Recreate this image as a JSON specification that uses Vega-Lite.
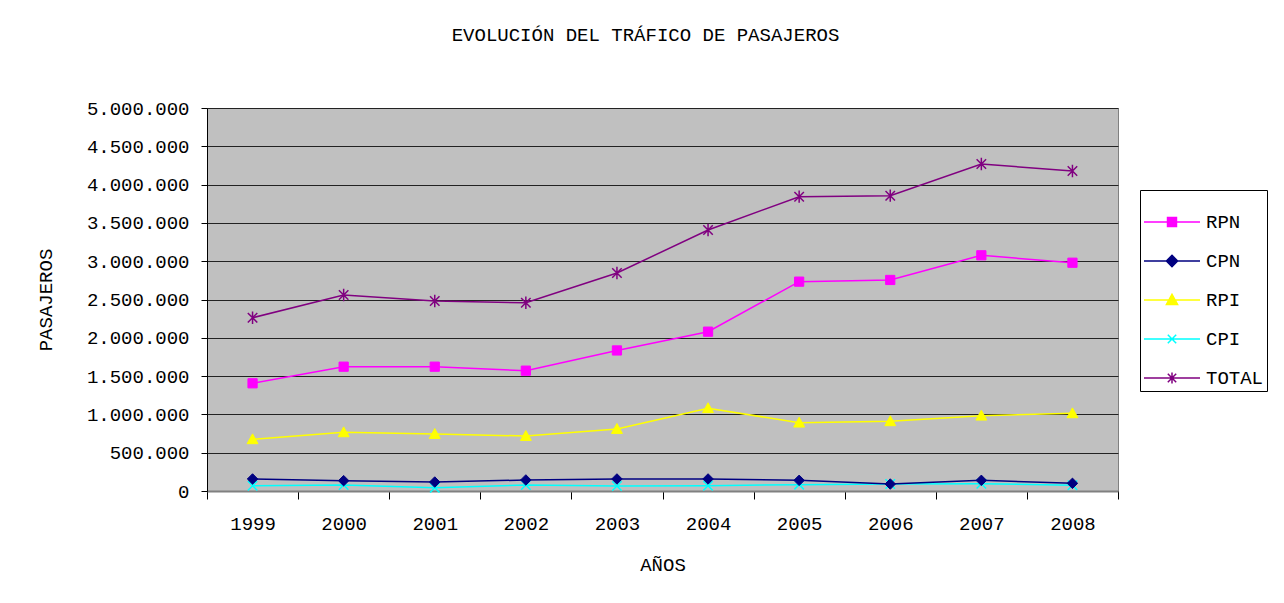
{
  "$schema": "https://vega.github.io/schema/vega-lite/v6.json",
  "width": 911,
  "height": 383,
  "autosize": {"type": "none"},
  "padding": {"left": 207, "top": 108, "right": 166, "bottom": 112},
  "background": "white",
  "title": {"text": "EVOLUCIÓN DEL TRÁFICO DE PASAJEROS", "font": "Liberation Mono", "fontSize": 19, "fontWeight": "normal", "color": "black", "offset": 54, "dx": -17, "anchor": "middle", "frame": "group"},
  "data": {"values": [
    {"year": "1999", "series": "RPN", "value": 1406000},
    {"year": "2000", "series": "RPN", "value": 1623000},
    {"year": "2001", "series": "RPN", "value": 1623000},
    {"year": "2002", "series": "RPN", "value": 1571000},
    {"year": "2003", "series": "RPN", "value": 1835000},
    {"year": "2004", "series": "RPN", "value": 2080000},
    {"year": "2005", "series": "RPN", "value": 2733000},
    {"year": "2006", "series": "RPN", "value": 2755000},
    {"year": "2007", "series": "RPN", "value": 3077000},
    {"year": "2008", "series": "RPN", "value": 2980000},
    {"year": "1999", "series": "CPN", "value": 157000},
    {"year": "2000", "series": "CPN", "value": 135000},
    {"year": "2001", "series": "CPN", "value": 117000},
    {"year": "2002", "series": "CPN", "value": 144000},
    {"year": "2003", "series": "CPN", "value": 157000},
    {"year": "2004", "series": "CPN", "value": 157000},
    {"year": "2005", "series": "CPN", "value": 139000},
    {"year": "2006", "series": "CPN", "value": 91000},
    {"year": "2007", "series": "CPN", "value": 139000},
    {"year": "2008", "series": "CPN", "value": 100000},
    {"year": "1999", "series": "RPI", "value": 675000},
    {"year": "2000", "series": "RPI", "value": 766000},
    {"year": "2001", "series": "RPI", "value": 744000},
    {"year": "2002", "series": "RPI", "value": 718000},
    {"year": "2003", "series": "RPI", "value": 809000},
    {"year": "2004", "series": "RPI", "value": 1080000},
    {"year": "2005", "series": "RPI", "value": 892000},
    {"year": "2006", "series": "RPI", "value": 910000},
    {"year": "2007", "series": "RPI", "value": 983000},
    {"year": "2008", "series": "RPI", "value": 1014000},
    {"year": "1999", "series": "CPI", "value": 69000},
    {"year": "2000", "series": "CPI", "value": 78000},
    {"year": "2001", "series": "CPI", "value": 43000},
    {"year": "2002", "series": "CPI", "value": 78000},
    {"year": "2003", "series": "CPI", "value": 65000},
    {"year": "2004", "series": "CPI", "value": 69000},
    {"year": "2005", "series": "CPI", "value": 83000},
    {"year": "2006", "series": "CPI", "value": 91000},
    {"year": "2007", "series": "CPI", "value": 95000},
    {"year": "2008", "series": "CPI", "value": 74000},
    {"year": "1999", "series": "TOTAL", "value": 2262000},
    {"year": "2000", "series": "TOTAL", "value": 2559000},
    {"year": "2001", "series": "TOTAL", "value": 2480000},
    {"year": "2002", "series": "TOTAL", "value": 2458000},
    {"year": "2003", "series": "TOTAL", "value": 2846000},
    {"year": "2004", "series": "TOTAL", "value": 3407000},
    {"year": "2005", "series": "TOTAL", "value": 3842000},
    {"year": "2006", "series": "TOTAL", "value": 3855000},
    {"year": "2007", "series": "TOTAL", "value": 4269000},
    {"year": "2008", "series": "TOTAL", "value": 4178000}
  ]},
  "encoding": {
    "x": {"field": "year", "type": "ordinal", "scale": {"type": "band", "paddingInner": 0, "paddingOuter": 0},
      "axis": {"title": "AÑOS", "labelAngle": 0, "tickBand": "extent", "tickSize": 8, "labelPadding": 15, "titlePadding": 22, "grid": false, "domainColor": "#808080", "domainWidth": 2}},
    "y": {"field": "value", "type": "quantitative", "scale": {"domain": [0, 5000000], "nice": false},
      "axis": {"title": "PASAJEROS", "values": [0, 500000, 1000000, 1500000, 2000000, 2500000, 3000000, 3500000, 4000000, 4500000, 5000000],
        "labelExpr": "replace(format(datum.value, ','), /,/g, '.')", "tickSize": 6, "labelPadding": 12, "titlePadding": 31, "grid": true, "gridColor": "#222", "gridOpacity": 1, "gridWidth": 1}}
  },
  "layer": [
    {
      "transform": [{"filter": "datum.series === 'TOTAL'"}],
      "mark": {"type": "line", "stroke": "#800080", "strokeWidth": 1.5,
        "point": {"shape": "M-1,-1L1,1M1,-1L-1,1M0,-1.3V1.3", "size": 90, "filled": false, "stroke": "#800080", "strokeWidth": 1.5, "opacity": 1}}
    },
    {
      "transform": [{"filter": "datum.series === 'RPN'"}],
      "mark": {"type": "line", "stroke": "#FF00FF", "strokeWidth": 1.5,
        "point": {"shape": "square", "size": 85, "filled": true, "fill": "#FF00FF", "stroke": "#FF00FF", "strokeWidth": 1, "opacity": 1}}
    },
    {
      "transform": [{"filter": "datum.series === 'RPI'"}],
      "mark": {"type": "line", "stroke": "#FFFF00", "strokeWidth": 1.5,
        "point": {"shape": "M0,-1L1,0.8H-1Z", "size": 120, "filled": true, "fill": "#FFFF00", "stroke": "#FFFF00", "strokeWidth": 1, "opacity": 1}}
    },
    {
      "transform": [{"filter": "datum.series === 'CPI'"}],
      "mark": {"type": "line", "stroke": "#00FFFF", "strokeWidth": 1.5,
        "point": {"shape": "M-1,-1L1,1M1,-1L-1,1", "size": 90, "filled": false, "stroke": "#00FFFF", "strokeWidth": 1.5, "opacity": 1}}
    },
    {
      "transform": [{"filter": "datum.series === 'CPN'"}],
      "mark": {"type": "line", "stroke": "#000080", "strokeWidth": 1.5,
        "point": {"shape": "diamond", "size": 110, "filled": true, "fill": "#000080", "stroke": "#000080", "strokeWidth": 1, "opacity": 1}}
    },
    {
      "mark": {"type": "point", "opacity": 0, "strokeWidth": 1.5},
      "encoding": {
        "fill": {"field": "series", "type": "nominal", "scale": {"domain": ["RPN", "CPN", "RPI", "CPI", "TOTAL"], "range": ["#FF00FF", "#000080", "#FFFF00", "#00FFFF", "#800080"]},
          "legend": {"title": null, "orient": "none", "legendX": 933, "legendY": 82, "strokeColor": "black", "padding": 3, "symbolSize": 3136, "symbolOpacity": 1, "symbolStrokeWidth": 1.5, "labelFont": "Liberation Mono", "labelFontSize": 19, "labelColor": "black", "rowPadding": 0, "labelOffset": 5}},
        "stroke": {"field": "series", "type": "nominal", "scale": {"domain": ["RPN", "CPN", "RPI", "CPI", "TOTAL"], "range": ["#FF00FF", "#000080", "#FFFF00", "#00FFFF", "#800080"]},
          "legend": {"title": null, "orient": "none", "legendX": 933, "legendY": 82, "strokeColor": "black", "padding": 3, "symbolSize": 3136, "symbolOpacity": 1, "symbolStrokeWidth": 1.5, "labelFont": "Liberation Mono", "labelFontSize": 19, "labelColor": "black", "rowPadding": 0, "labelOffset": 5}},
        "shape": {"field": "series", "type": "nominal",
          "scale": {"domain": ["RPN", "CPN", "RPI", "CPI", "TOTAL"], "range": [
            "M-1,0H1M-0.16,-0.16H0.16V0.16H-0.16Z",
            "M-1,0H1M0,-0.2L0.2,0L0,0.2L-0.2,0Z",
            "M-1,0H1M0,-0.2L0.2,0.16H-0.2Z",
            "M-1,0H1M-0.15,-0.15L0.15,0.15M0.15,-0.15L-0.15,0.15",
            "M-1,0H1M-0.15,-0.15L0.15,0.15M0.15,-0.15L-0.15,0.15M0,-0.2V0.2"]},
          "legend": {"title": null, "orient": "none", "legendX": 933, "legendY": 82, "strokeColor": "black", "padding": 3, "symbolSize": 3136, "symbolOpacity": 1, "symbolStrokeWidth": 1.5, "labelFont": "Liberation Mono", "labelFontSize": 19, "labelColor": "black", "rowPadding": 0, "labelOffset": 5}},
        "size": {"value": 3136}
      }
    }
  ],
  "config": {
    "view": {"fill": "#C0C0C0", "stroke": "#808080", "strokeWidth": 1},
    "axis": {"labelFont": "Liberation Mono", "labelFontSize": 19, "labelColor": "black", "titleFont": "Liberation Mono", "titleFontSize": 19, "titleFontWeight": "normal", "titleColor": "black", "domainColor": "black", "tickColor": "black"},
    "legend": {"labelFont": "Liberation Mono", "labelFontSize": 19}
  }
}
